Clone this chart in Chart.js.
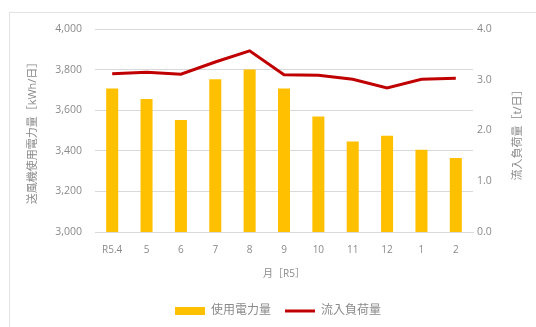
<!DOCTYPE html>
<html>
<head>
<meta charset="utf-8">
<script src="https://cdn.jsdelivr.net/npm/chart.js@4"></script>
<style>
  html, body { margin: 0; padding: 0; background: #fff; }
  #wrap { position: relative; width: 536px; height: 327px; overflow: hidden; }
  #frame { position: absolute; left: 9px; top: 12px; width: 600px; height: 400px;
           border-left: 1.5px solid #e3e3e3; border-top: 1.5px solid #e3e3e3; }
  canvas { position: absolute; left: 0; top: 0; }
</style>
</head>
<body>
<div id="wrap">
  <div id="frame"></div>
  <canvas id="myChart" width="536" height="327"></canvas>
</div>
<script>
// 月別の送風機使用電力量と流入負荷量
const months = ["R5.4", "5", "6", "7", "8", "9", "10", "11", "12", "1", "2"];
const denryoku = [3707, 3655, 3552, 3753, 3801, 3707, 3569, 3446, 3474, 3405, 3364];
const fuka = [3.12, 3.15, 3.11, 3.35, 3.57, 3.10, 3.09, 3.01, 2.84, 3.01, 3.03];
const leftTicks = [3000, 3200, 3400, 3600, 3800, 4000];
const rightTicks = [0, 1, 2, 3, 4];

const grey = "#8a8a8a";
const fam = "'Open Sans', 'Noto Sans CJK JP', sans-serif";

// 右軸タイトル（下から上へ読む向き）
const rightTitle = {
  id: "rightTitle",
  afterDraw(chart) {
    const s = chart.scales.y2;
    const ctx = chart.ctx;
    ctx.save();
    ctx.translate(518, (s.top + s.bottom) / 2 + 2);
    ctx.rotate(-Math.PI / 2);
    ctx.font = "11px " + fam;
    ctx.fillStyle = grey;
    ctx.textAlign = "center";
    ctx.textBaseline = "middle";
    ctx.fillText("流入負荷量［t/日］", 0, 0);
    ctx.restore();
  }
};

new Chart(document.getElementById("myChart"), {
  data: {
    labels: months,
    datasets: [
      {
        type: "bar",
        label: "使用電力量",
        data: denryoku,
        backgroundColor: "#FFC000",
        borderWidth: 0,
        barPercentage: 0.7,
        categoryPercentage: 0.5,
        yAxisID: "y",
        order: 1
      },
      {
        type: "line",
        label: "流入負荷量",
        data: fuka,
        borderColor: "#C00000",
        backgroundColor: "#C00000",
        borderWidth: 3,
        pointRadius: 0,
        tension: 0,
        yAxisID: "y2",
        order: 0
      }
    ]
  },
  options: {
    responsive: false,
    animation: false,
    layout: { padding: { top: 29, right: 0, bottom: 0, left: 20 } },
    plugins: {
      tooltip: { enabled: false },
      legend: {
        position: "bottom",
        labels: {
          font: { size: 12, family: fam },
          color: grey,
          usePointStyle: true,
          pointStyleWidth: 30,
          boxWidth: 30,
          boxHeight: 8,
          padding: 14,
          sort: (a, b) => a.datasetIndex - b.datasetIndex,
          generateLabels(chart) {
            const items = Chart.defaults.plugins.legend.labels.generateLabels(chart);
            items.forEach(it => {
              if (it.datasetIndex === 0) {
                it.pointStyle = "rect";
                it.lineWidth = 0;
              } else {
                it.pointStyle = "line";
                it.lineWidth = 3;
                it.strokeStyle = "#C00000";
              }
            });
            return items;
          }
        }
      }
    },
    scales: {
      x: {
        grid: { display: false, drawTicks: false },
        border: { color: "#d9d9d9" },
        ticks: { color: grey, font: { size: 10, family: fam }, padding: 12, maxRotation: 0 },
        title: { display: true, text: "月［R5］", color: grey, font: { size: 10, family: fam }, padding: { top: 0, bottom: 11 } },
        afterFit(s) { s.height = 59; }
      },
      y: {
        position: "left",
        min: 3000,
        max: 4000,
        afterBuildTicks(s) { s.ticks = leftTicks.map(v => ({ value: v })); },
        grid: { color: "#d9d9d9", drawTicks: false },
        border: { display: false },
        ticks: { color: grey, font: { size: 10.5, family: fam }, padding: 13,
                 callback: v => v.toLocaleString("en-US") },
        title: { display: true, text: "送風機使用電力量［kWh/日］", color: grey,
                 font: { size: 11, family: fam }, padding: { top: 6, bottom: 0 } },
        afterFit(s) { s.width = 75; }
      },
      y2: {
        position: "right",
        min: 0,
        max: 4,
        afterBuildTicks(s) { s.ticks = rightTicks.map(v => ({ value: v })); },
        grid: { display: false, drawTicks: false },
        border: { display: false },
        ticks: { color: grey, font: { size: 10.5, family: fam }, padding: 4,
                 callback: v => v.toFixed(1) },
        afterFit(s) { s.width = 63; }
      }
    }
  },
  plugins: [rightTitle]
});
</script>
</body>
</html>
